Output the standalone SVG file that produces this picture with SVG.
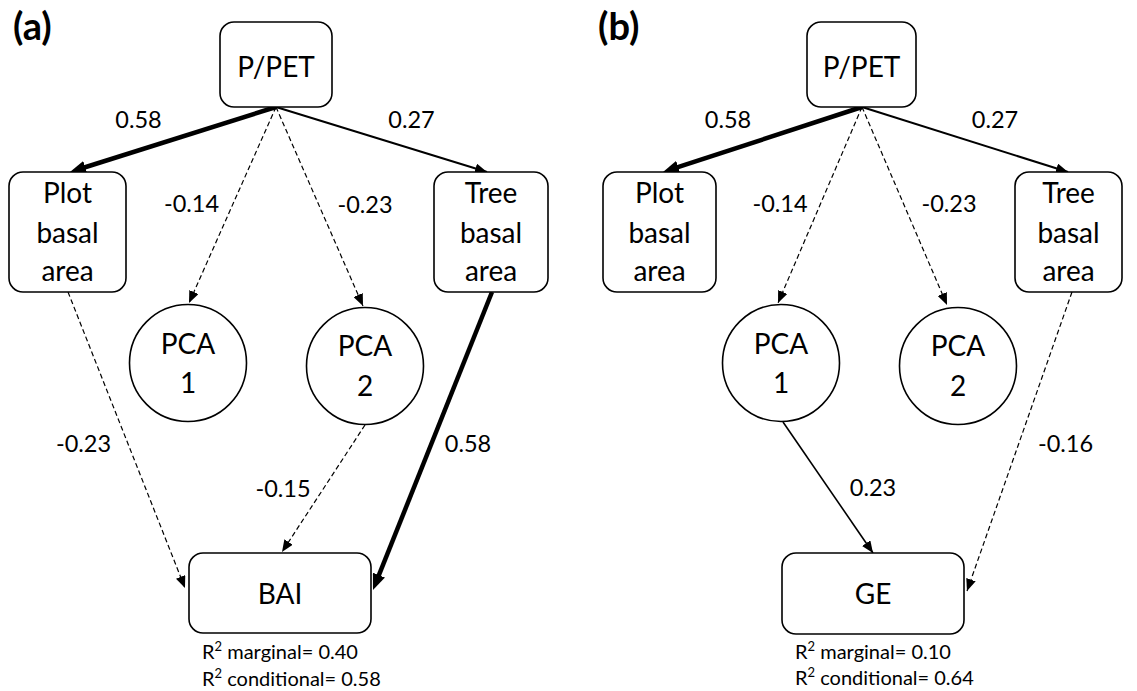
<svg xmlns="http://www.w3.org/2000/svg" width="1137" height="691" viewBox="0 0 1137 691">
  <style>
    text { font-family: Lato, "Open Sans", "Liberation Sans", sans-serif; fill: #000; }
    .node rect, .node circle { fill: #fff; stroke: #000; stroke-width: 1.6; }
    .nt { font-size: 28px; text-anchor: middle; }
    .lbl { font-size: 23.5px; text-anchor: middle; }
    .panel { font-size: 38px; font-weight: 700; }
    .r2 { font-size: 20px; }
    .thick { stroke: #000; stroke-width: 4.5; fill: none; marker-end: url(#ahBig); }
    .solid { stroke: #000; stroke-width: 2; fill: none; marker-end: url(#ah); }
    .thin { stroke: #000; stroke-width: 1.6; fill: none; marker-end: url(#ah); }
    .dash { stroke: #000; stroke-width: 1.2; fill: none; stroke-dasharray: 5 3; marker-end: url(#ah); }
  </style>
  <defs>
    <marker id="ahBig" markerUnits="userSpaceOnUse" markerWidth="16" markerHeight="13" refX="6" refY="6.5" orient="auto">
      <path d="M0,0 L16,6.5 L0,13 z" fill="#000"/>
    </marker>
    <marker id="ah" markerUnits="userSpaceOnUse" markerWidth="12" markerHeight="10" refX="12" refY="5" orient="auto">
      <path d="M0,0 L12,5 L0,10 z" fill="#000"/>
    </marker>
  </defs>

  <rect width="1137" height="691" fill="#fff"/>

  <!-- panel letters -->
  <text class="panel" x="13" y="40">(a)</text>
  <text class="panel" x="598" y="40">(b)</text>

  <!-- connectors -->
  <g id="connectors">
    <!-- panel a -->
    <line class="thick" x1="276" y1="107" x2="79.5" y2="169"/>
    <line class="solid" x1="276" y1="107" x2="487" y2="172"/>
    <line class="dash" x1="276" y1="107" x2="189" y2="303"/>
    <line class="dash" x1="276" y1="107" x2="363" y2="306"/>
    <line class="dash" x1="68" y1="292" x2="185" y2="588"/>
    <line class="dash" x1="365" y1="425" x2="282" y2="552"/>
    <line class="thick" x1="492" y1="292" x2="376.7" y2="580.7"/>
    <!-- panel b -->
    <line class="thick" x1="862" y1="107" x2="672.5" y2="168.9"/>
    <line class="solid" x1="862" y1="107" x2="1068" y2="172"/>
    <line class="dash" x1="862" y1="107" x2="778" y2="303"/>
    <line class="dash" x1="862" y1="107" x2="947" y2="305"/>
    <line class="thin" x1="783" y1="422" x2="873" y2="553"/>
    <line class="dash" x1="1072" y1="292" x2="967" y2="591"/>
  </g>

  <!-- path coefficients -->
  <g id="labels">
    <text class="lbl" x="138.5" y="128">0.58</text>
    <text class="lbl" x="411.5" y="128">0.27</text>
    <text class="lbl" x="191.5" y="212">-0.14</text>
    <text class="lbl" x="365" y="213">-0.23</text>
    <text class="lbl" x="83.5" y="452">-0.23</text>
    <text class="lbl" x="468" y="452">0.58</text>
    <text class="lbl" x="283" y="497">-0.15</text>

    <text class="lbl" x="728" y="128">0.58</text>
    <text class="lbl" x="995" y="128">0.27</text>
    <text class="lbl" x="780" y="212">-0.14</text>
    <text class="lbl" x="949" y="212">-0.23</text>
    <text class="lbl" x="873" y="496">0.23</text>
    <text class="lbl" x="1065.5" y="452">-0.16</text>
  </g>

  <!-- panel a nodes -->
  <g id="a-ppet" class="node">
    <rect x="220" y="22" width="112" height="85" rx="14"/>
    <text class="nt" x="276" y="77">P/PET</text>
  </g>
  <g id="a-plot" class="node">
    <rect x="9" y="172" width="117" height="120" rx="14"/>
    <text class="nt" x="67.5" y="203">Plot</text>
    <text class="nt" x="67.5" y="243">basal</text>
    <text class="nt" x="67.5" y="281">area</text>
  </g>
  <g id="a-tree" class="node">
    <rect x="434" y="172" width="114" height="120" rx="14"/>
    <text class="nt" x="491" y="203">Tree</text>
    <text class="nt" x="491" y="243">basal</text>
    <text class="nt" x="491" y="281">area</text>
  </g>
  <g id="a-pca1" class="node">
    <circle cx="188" cy="363" r="58.5"/>
    <text class="nt" x="188" y="354">PCA</text>
    <text class="nt" x="188" y="393">1</text>
  </g>
  <g id="a-pca2" class="node">
    <circle cx="365" cy="366" r="58.5"/>
    <text class="nt" x="365" y="356">PCA</text>
    <text class="nt" x="365" y="396">2</text>
  </g>
  <g id="a-bai" class="node">
    <rect x="189" y="553" width="182" height="80" rx="14"/>
    <text class="nt" x="280" y="604">BAI</text>
  </g>
  <g id="a-r2">
    <text class="r2" x="202" y="659">R<tspan font-size="13" dy="-8">2</tspan><tspan dy="8"> marginal= 0.40</tspan></text>
    <text class="r2" x="202" y="686">R<tspan font-size="13" dy="-8">2</tspan><tspan dy="8"> conditional= 0.58</tspan></text>
  </g>

  <!-- panel b nodes -->
  <g id="b-ppet" class="node">
    <rect x="807" y="22" width="109" height="85" rx="14"/>
    <text class="nt" x="861.5" y="77">P/PET</text>
  </g>
  <g id="b-plot" class="node">
    <rect x="603" y="172" width="113" height="120" rx="14"/>
    <text class="nt" x="659.5" y="203">Plot</text>
    <text class="nt" x="659.5" y="243">basal</text>
    <text class="nt" x="659.5" y="281">area</text>
  </g>
  <g id="b-tree" class="node">
    <rect x="1015" y="172" width="107" height="120" rx="14"/>
    <text class="nt" x="1068.5" y="203">Tree</text>
    <text class="nt" x="1068.5" y="243">basal</text>
    <text class="nt" x="1068.5" y="281">area</text>
  </g>
  <g id="b-pca1" class="node">
    <circle cx="781" cy="363" r="58.5"/>
    <text class="nt" x="781" y="354">PCA</text>
    <text class="nt" x="781" y="393">1</text>
  </g>
  <g id="b-pca2" class="node">
    <circle cx="958" cy="366" r="58.5"/>
    <text class="nt" x="958" y="356">PCA</text>
    <text class="nt" x="958" y="396">2</text>
  </g>
  <g id="b-ge" class="node">
    <rect x="782" y="553" width="182" height="81" rx="14"/>
    <text class="nt" x="873" y="604">GE</text>
  </g>
  <g id="b-r2">
    <text class="r2" x="795" y="659">R<tspan font-size="13" dy="-8">2</tspan><tspan dy="8"> marginal= 0.10</tspan></text>
    <text class="r2" x="795" y="685">R<tspan font-size="13" dy="-8">2</tspan><tspan dy="8"> conditional= 0.64</tspan></text>
  </g>
</svg>
